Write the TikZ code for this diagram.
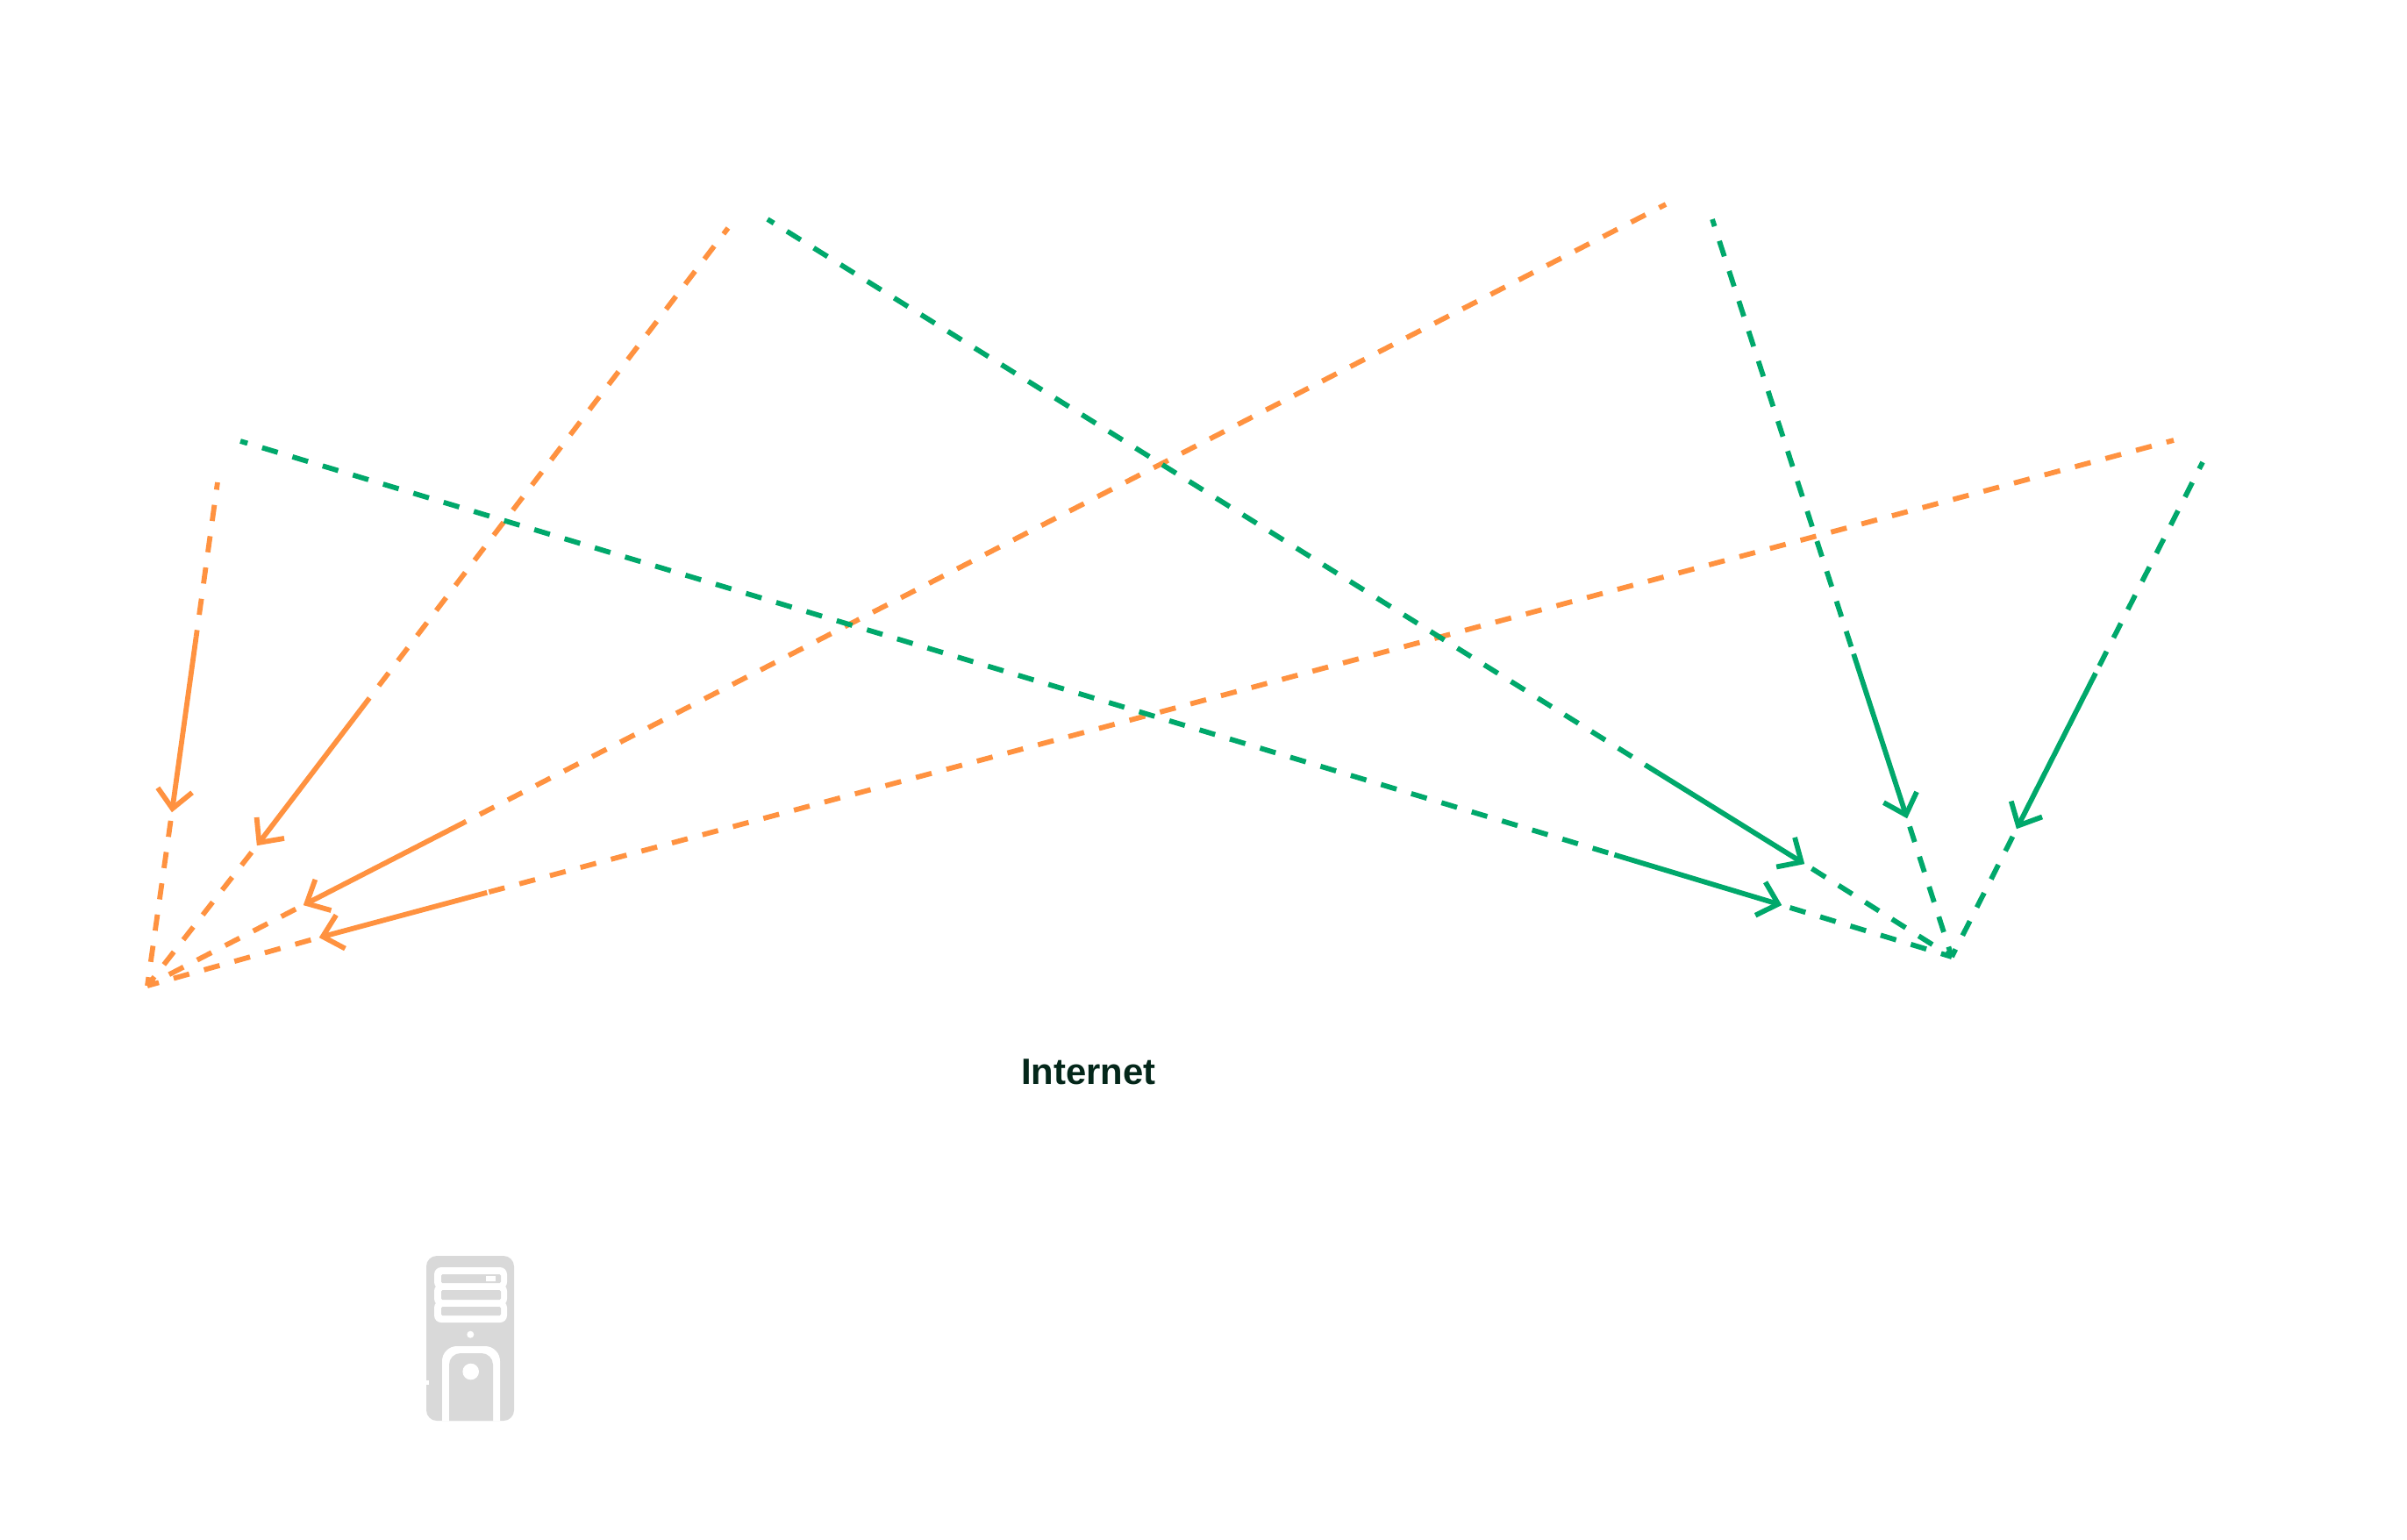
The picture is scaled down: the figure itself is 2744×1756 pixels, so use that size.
\documentclass[tikz,border=0pt]{standalone}
\usepackage{fontspec}
\setmainfont{Liberation Sans}
\usetikzlibrary{calc}
\definecolor{og}{HTML}{FF9240}
\definecolor{gr}{HTML}{00A86B}
\definecolor{ic}{HTML}{D9D9D9}
\definecolor{tx}{HTML}{04271A}
\tikzset{
  dashline/.style={line width=5.8pt,dash pattern=on 18.5pt off 17.5pt},
  solidline/.style={line width=5.8pt},
  barb/.style={line width=5.8pt,miter limit=10,line join=miter},
}
\begin{document}
\begin{tikzpicture}[x=1pt,y=-1pt]
\useasboundingbox (0,0) rectangle (2744,1756);
\fill[white] (0,0) rectangle (2744,1756);
\coordinate (AO) at (168,1124);
\coordinate (AG) at (2225,1091);
% starts and arrow tips
\coordinate (o1s) at (248,550);  \coordinate (o1b) at (196,926);
\coordinate (o2s) at (830,260);  \coordinate (o2b) at (293,964);
\coordinate (o3s) at (1899,233); \coordinate (o3b) at (346,1032);
\coordinate (o4s) at (2478,502); \coordinate (o4b) at (364,1069);
\coordinate (g1s) at (274,503);  \coordinate (g1b) at (2031,1032);
\coordinate (g2s) at (875,250);  \coordinate (g2b) at (2057,985);
\coordinate (g3s) at (1952,250); \coordinate (g3b) at (2174,933);
\coordinate (g4s) at (2511,527); \coordinate (g4b) at (2299,945);

\foreach \p/\c/\A/\L/\ph in {o1/og/AO/202/10,o2/og/AO/193/10,o3/og/AO/207/10,o4/og/AO/198/10,
                          g1/gr/AG/199/10,g2/gr/AG/197/10,g3/gr/AG/197/10,g4/gr/AG/199/10}{
  \coordinate (\p a) at ($(\p b)!\L pt!(\p s)$);
  \coordinate (\p v) at ($(\p b)!4pt!(\p s)$);
  \coordinate (\p c) at ($(\p b)!10pt!(\A)$);
  \draw[\c,dashline,dash phase=\ph pt] (\p s) -- (\p a);
  \draw[\c,dashline] (\p c) -- (\A);
  \draw[\c,solidline] (\p a) -- (\p v);
  \draw[\c,barb] ($(\p v)!29pt!43:(\p a)$) -- (\p v) -- ($(\p v)!29pt!-43:(\p a)$);
}
\node[font=\fontsize{41.8pt}{41.8pt}\selectfont\bfseries,text=tx,inner sep=0pt,anchor=base] (inet) at (1241,1236) {Internet};
% server icon
\fill[ic,rounded corners=12pt] (486,1432) rectangle (586,1620);
\fill[white] (486,1574) rectangle (489,1579);
\foreach \a/\b in {1445/1470,1464/1489,1483/1508}
  \fill[white,rounded corners=8pt] (495,\a) rectangle (578,\b);
\foreach \a/\b in {1453/1463,1471/1482,1490/1500}
  \fill[ic,rounded corners=1.5pt] (503,\a) rectangle (571,\b);
\fill[white] (554,1455) rectangle (565,1461);
\fill[white] (536.3,1521.7) circle[radius=4pt];
\fill[white] (504,1620) -- (504,1552) arc[start angle=180,end angle=90,radius=17pt] -- (553,1535) arc[start angle=90,end angle=0,radius=17pt] -- (570,1620) -- cycle;
\fill[ic] (512,1620) -- (512,1556) arc[start angle=180,end angle=90,radius=13pt] -- (549,1543) arc[start angle=90,end angle=0,radius=13pt] -- (562,1620) -- cycle;
\fill[white] (536.7,1564) circle[radius=9.3pt];
\end{tikzpicture}
\end{document}
